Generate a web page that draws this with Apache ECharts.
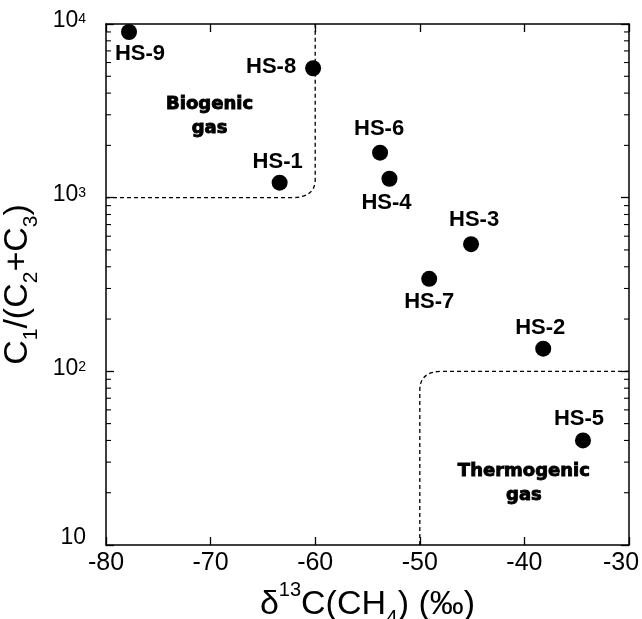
<!DOCTYPE html>
<html>
<head>
<meta charset="utf-8">
<script src="https://cdn.jsdelivr.net/npm/echarts@6/dist/echarts.min.js"></script>
<style>
  html, body { margin: 0; padding: 0; background: #fff; }
  #main { width: 642px; height: 619px; }
</style>
</head>
<body>
<div id="main"></div>
<script>
// sample names and measured values
const names = ['HS-1', 'HS-2', 'HS-3', 'HS-4', 'HS-5', 'HS-6', 'HS-7', 'HS-8', 'HS-9'];
const d13C = [-63.4, -38.2, -45.1, -52.9, -34.4, -53.8, -49.1, -60.2, -77.8];
const ratio = [1220, 135, 540, 1285, 40, 1815, 341, 5560, 8990];

// axis ranges and ticks
const xTicks = [-80, -70, -60, -50, -40, -30];
const yDecades = [10, 100, 1000, 10000];

// field boundaries (biogenic: x <= -60 and y >= 1000, thermogenic: x >= -50 and y <= 100)
const bioCorner = [-60, 1000];
const thermoCorner = [-50, 100];

// label offsets (px, label centre relative to dot centre)
const labelOffset = {
  'HS-1': [-2, -21], 'HS-2': [-3, -21], 'HS-3': [3, -24], 'HS-4': [-3, 24],
  'HS-5': [-4, -22], 'HS-6': [-1, -24], 'HS-7': [0, 23], 'HS-8': [-42, -1],
  'HS-9': [11, 22]
};

const FONT = 'Liberation Sans, Arial, sans-serif';
const xMin = xTicks[0], xMax = xTicks[xTicks.length - 1];
const yMin = yDecades[0], yMax = yDecades[yDecades.length - 1];

// log minor ticks 2..9 in each decade
const yMinor = [];
for (let i = 0; i < yDecades.length - 1; i++) {
  for (let m = 2; m <= 9; m++) yMinor.push(yDecades[i] * m);
}

const myChart = echarts.init(document.getElementById('main'));

const axisLine = { show: true, lineStyle: { color: '#000', width: 1.5 } };
const tick = { show: true, inside: true, length: 8, lineStyle: { color: '#000', width: 1.3 } };

const option = {
  animation: false,
  backgroundColor: '#fff',
  grid: { left: 106, right: 13, top: 24, bottom: 74, containLabel: false, outerBoundsMode: 'none' },
  xAxis: [
    {
      type: 'value', min: xMin, max: xMax, interval: 10, position: 'bottom',
      axisLine: axisLine, axisTick: tick, splitLine: { show: false },
      axisLabel: {
        color: '#000', fontSize: 25, fontFamily: FONT, margin: 6,
        formatter: function (v) {
          return v === xMax ? '{r|' + v + '}' : '{n|' + v + '}';
        },
        rich: {
          n: { fontSize: 25, fontFamily: FONT, color: '#000' },
          r: { fontSize: 25, fontFamily: FONT, color: '#000', padding: [0, 16, 0, 0] }
        }
      },
      name: 'δ{sup|13}C(CH{sub|4}) (‰)', nameLocation: 'middle', nameGap: 28,
      nameTextStyle: {
        color: '#000', fontSize: 34, fontFamily: FONT, lineHeight: 48,
        rich: {
          sup: { fontSize: 20, lineHeight: 20, verticalAlign: 'top', fontFamily: FONT, color: '#000' },
          sub: { fontSize: 21, lineHeight: 21, verticalAlign: 'bottom', fontFamily: FONT, color: '#000' }
        }
      }
    },
    {
      type: 'value', min: xMin, max: xMax, interval: 10, position: 'top',
      axisLine: axisLine, axisTick: tick, axisLabel: { show: false }, splitLine: { show: false }
    }
  ],
  yAxis: [
    {
      type: 'log', logBase: 10, min: yMin, max: yMax, position: 'left',
      axisLine: axisLine, axisTick: tick, splitLine: { show: false }, minorTick: { show: false },
      axisLabel: {
        color: '#000', margin: 20, fontFamily: FONT, fontSize: 23,
        formatter: function (v) {
          const e = Math.round(Math.log10(v));
          if (e === 1) return '{ten|10}';
          return '{mant|10}{expo|' + e + '}';
        },
        rich: {
          mant: { fontSize: 23, lineHeight: 23, fontFamily: FONT, color: '#000', padding: [0, 0, 6, 0] },
          expo: { fontSize: 14, lineHeight: 14, verticalAlign: 'top', fontFamily: FONT, color: '#000' },
          ten: { fontSize: 23, lineHeight: 23, fontFamily: FONT, color: '#000', padding: [0, 0, 14, 0] }
        }
      },
      name: 'C{sub|1}/(C{sub|2}+C{sub|3})', nameLocation: 'middle', nameGap: 56, nameRotate: 90,
      nameTextStyle: {
        color: '#000', fontSize: 34, fontFamily: FONT, lineHeight: 48,
        rich: {
          sub: { fontSize: 21, lineHeight: 21, verticalAlign: 'bottom', fontFamily: FONT, color: '#000' }
        }
      }
    },
    {
      type: 'log', logBase: 10, min: yMin, max: yMax, position: 'right',
      axisLine: axisLine, axisTick: tick, axisLabel: { show: false }, splitLine: { show: false }
    }
  ],
  series: [
    {
      // log minor ticks on left and right frame
      type: 'custom',
      silent: true,
      clip: false,
      data: yMinor.map(v => [v]),
      renderItem: function (params, api) {
        const v = api.value(0);
        const l = api.coord([xMin, v]);
        const r = api.coord([xMax, v]);
        const st = { stroke: '#000', lineWidth: 1.1 };
        return {
          type: 'group',
          children: [
            { type: 'line', shape: { x1: l[0], y1: l[1], x2: l[0] + 5, y2: l[1] }, style: st },
            { type: 'line', shape: { x1: r[0], y1: r[1], x2: r[0] - 5, y2: r[1] }, style: st }
          ]
        };
      }
    },
    {
      // field boundaries and labels
      type: 'custom',
      silent: true,
      clip: false,
      data: [[0], [1]],
      renderItem: function (params, api) {
        const dash = { stroke: '#000', fill: null, lineWidth: 1.3, lineDash: [4, 3] };
        const txt = {
          fill: '#000', font: 'bold 18px "DejaVu Sans", sans-serif', align: 'center',
          verticalAlign: 'middle', lineHeight: 24, stroke: '#000', lineWidth: 0.9
        };
        if (params.dataIndex === 0) {
          const a = api.coord([xMin, bioCorner[1]]);
          const c = api.coord(bioCorner);
          const t = api.coord([bioCorner[0], yMax]);
          const rx = 24, ry = 18;
          const path = 'M' + a[0] + ' ' + a[1] + ' L' + (c[0] - rx) + ' ' + c[1] +
            ' Q' + c[0] + ' ' + c[1] + ' ' + c[0] + ' ' + (c[1] - ry) + ' L' + t[0] + ' ' + t[1];
          const p = api.coord([-70.1, 2950]);
          return {
            type: 'group',
            children: [
              { type: 'path', shape: { pathData: path }, style: dash },
              { type: 'text', x: p[0], y: p[1], style: Object.assign({ text: 'Biogenic\ngas' }, txt) }
            ]
          };
        }
        const b = api.coord([thermoCorner[0], yMin]);
        const c = api.coord(thermoCorner);
        const r = api.coord([xMax, thermoCorner[1]]);
        const rx = 22, ry = 19;
        const path = 'M' + b[0] + ' ' + b[1] + ' L' + c[0] + ' ' + (c[1] + ry) +
          ' Q' + c[0] + ' ' + c[1] + ' ' + (c[0] + rx) + ' ' + c[1] + ' L' + r[0] + ' ' + r[1];
        const p = api.coord([-40.05, 22.6]);
        return {
          type: 'group',
          children: [
            { type: 'path', shape: { pathData: path }, style: dash },
            { type: 'text', x: p[0], y: p[1], style: Object.assign({ text: 'Thermogenic\ngas' }, txt) }
          ]
        };
      }
    },
    {
      type: 'scatter',
      symbol: 'circle',
      symbolSize: 16,
      itemStyle: { color: '#000', opacity: 1 },
      data: names.map((n, i) => ({
        name: n,
        value: [d13C[i], ratio[i]],
        label: { offset: labelOffset[n] }
      })),
      label: {
        show: true, position: 'inside', formatter: '{b}',
        color: '#000', fontSize: 22, fontWeight: 'bold', fontFamily: FONT,
        align: 'center', verticalAlign: 'middle'
      }
    }
  ]
};

myChart.setOption(option);
</script>
</body>
</html>
